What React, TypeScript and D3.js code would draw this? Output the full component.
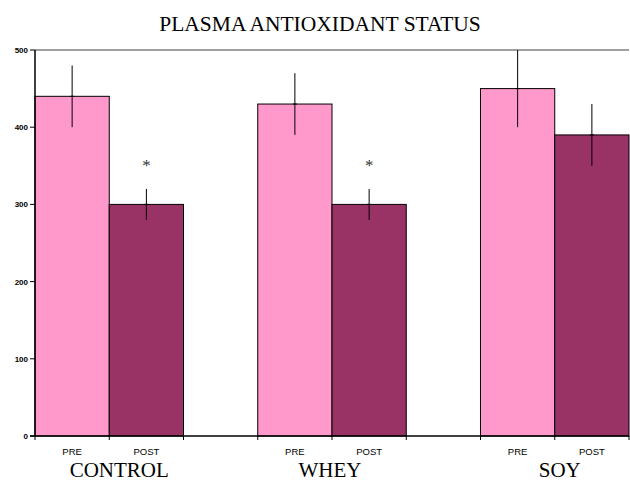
import React from "react";
import * as d3 from "d3";

const groups = ["CONTROL", "WHEY", "SOY"];
const phases = ["PRE", "POST"];
const means = [
  [440, 300],
  [430, 300],
  [450, 390],
];
const errors = [
  [40, 20],
  [40, 20],
  [50, 40],
];
const significant = [
  [false, true],
  [false, true],
  [false, false],
];
const yTicks = [0, 100, 200, 300, 400, 500];
const colors = ["#FF99CC", "#993366"];

const W = 630;
const H = 485;
const left = 35;
const right = 629;
const top = 50;
const bottom = 436;
const labelNudge: Record<string, number> = { CONTROL: 10, WHEY: -2, SOY: 5 };

export default function App() {
  const slots: string[] = [];
  groups.forEach((g, gi) => {
    phases.forEach((p) => slots.push(`${g}-${p}`));
    if (gi < groups.length - 1) slots.push(`gap-${gi}`);
  });
  const x = d3.scaleBand<string>().domain(slots).range([left, right]).padding(0);
  const y = d3.scaleLinear().domain([0, 500]).range([bottom, top]);
  const bw = x.bandwidth();

  return (
    <svg
      width={W}
      height={H}
      style={{ position: "absolute", left: 0, top: 0 }}
      fontFamily="'Liberation Serif', 'Times New Roman', serif"
    >
      <rect x={0} y={0} width={W} height={H} fill="#fff" />
      <text x={320} y={31} textAnchor="middle" fontSize={21.5}>
        PLASMA ANTIOXIDANT STATUS
      </text>
      {/* top border */}
      <line x1={left} x2={right} y1={y(500)} y2={y(500)} stroke="#808080" strokeWidth={1.5} />
      {/* bars */}
      {groups.map((g, gi) =>
        phases.map((p, pi) => {
          const xx = x(`${g}-${p}`)!;
          const v = means[gi][pi];
          const e = errors[gi][pi];
          const cx = xx + bw / 2;
          return (
            <g key={`${g}-${p}`}>
              <rect
                x={xx}
                y={y(v)}
                width={bw}
                height={y(0) - y(v)}
                fill={colors[pi]}
                stroke="#000"
                strokeWidth={1}
              />
              <line x1={cx} x2={cx} y1={y(v + e)} y2={y(v - e)} stroke="#000" strokeWidth={1} />
              <line x1={cx - 2} x2={cx + 2} y1={y(v)} y2={y(v)} stroke="#000" strokeWidth={1} />
              {significant[gi][pi] && (
                <text x={cx} y={y(v + e) - 18} textAnchor="middle" fontSize={17} fill="#333">
                  *
                </text>
              )}
              <text
                x={cx}
                y={455}
                textAnchor="middle"
                fontSize={9.5}
                fontFamily="'Liberation Sans', Arial, sans-serif"
              >
                {p}
              </text>
            </g>
          );
        })
      )}
      {/* y axis */}
      <line x1={left} x2={left} y1={y(0)} y2={y(500)} stroke="#000" strokeWidth={1.5} />
      {yTicks.map((t) => (
        <g key={t}>
          <line x1={left - 5} x2={left} y1={y(t)} y2={y(t)} stroke="#000" />
          <text
            x={left - 7}
            y={y(t) + 3}
            textAnchor="end"
            fontSize={8}
            fontWeight="bold"
            fontFamily="'Liberation Sans', Arial, sans-serif"
          >
            {t}
          </text>
        </g>
      ))}
      {/* x axis */}
      <line x1={left - 5} x2={right} y1={y(0)} y2={y(0)} stroke="#000" strokeWidth={1.5} />
      {slots.map((s) => (
        <line key={s} x1={x(s)!} x2={x(s)!} y1={y(0)} y2={y(0) + 4} stroke="#000" />
      ))}
      <line x1={right} x2={right} y1={y(0)} y2={y(0) + 4} stroke="#000" />
      {groups.map((g) => {
        const cx = x(`${g}-PRE`)! + bw + (labelNudge[g] || 0);
        return (
          <text key={g} x={cx} y={477} textAnchor="middle" fontSize={21}>
            {g}
          </text>
        );
      })}
    </svg>
  );
}
